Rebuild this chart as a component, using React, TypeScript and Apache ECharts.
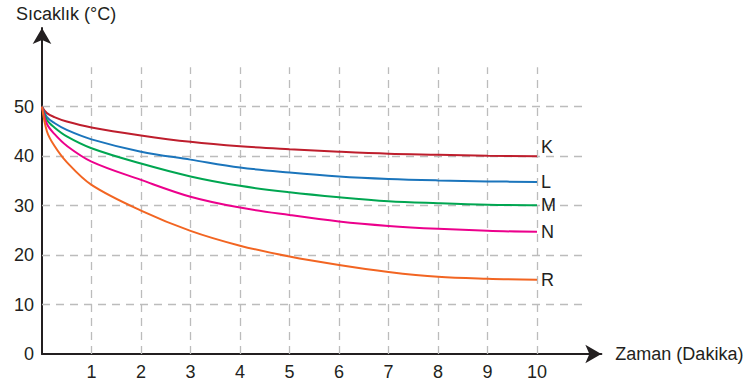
import React, { useEffect, useRef } from "react";
import * as echarts from "echarts";

// Time in minutes (x) and temperatures (°C) per substance
const times = [0, 0.1, 0.25, 0.5, 1, 2, 3, 4, 5, 6, 7, 8, 9, 10];
const seriesK = [50, 48.7, 47.9, 47.0, 45.8, 44.2, 42.9, 42.0, 41.4, 40.9, 40.5, 40.3, 40.1, 40.0];
const seriesL = [50, 47.9, 46.7, 45.3, 43.4, 40.9, 39.3, 37.7, 36.7, 35.9, 35.4, 35.1, 34.9, 34.8];
const seriesM = [50, 47.3, 45.8, 44.0, 41.6, 38.5, 35.9, 34.0, 32.7, 31.7, 30.9, 30.5, 30.2, 30.1];
const seriesN = [50, 46.5, 44.5, 42.1, 38.9, 35.2, 31.8, 29.6, 28.1, 26.8, 25.9, 25.3, 24.9, 24.7];
const seriesR = [50, 45.0, 42.1, 38.8, 34.2, 29.0, 24.9, 21.9, 19.7, 18.0, 16.6, 15.6, 15.2, 15.0];
const seriesNames = ["K", "L", "M", "N", "R"];

const xTicks = [1, 2, 3, 4, 5, 6, 7, 8, 9, 10];
const yTicks = [10, 20, 30, 40, 50];
const xAxisMax = 11.3;
const yAxisMax = 65.9;
const gridLineTop = 58;
const gridLineRight = 11;

const colors = ["#be1e2d", "#1b75bc", "#00a651", "#ec008c", "#f26522"];
const FONT = "'Liberation Sans', Arial, Helvetica, sans-serif";
const TEXT = "#231f20";

export default function App() {
  const ref = useRef<HTMLDivElement>(null);
  useEffect(() => {
    if (!ref.current) return;
    const chart = echarts.init(ref.current, undefined, { renderer: "svg" });
    const all = [seriesK, seriesL, seriesM, seriesN, seriesR];
    const gridStyle = { type: [8, 6] as any, color: "#bcbcbc", width: 1.3 };
    const markData: any[] = [];
    xTicks.forEach((t) => markData.push([{ coord: [t, 0] }, { coord: [t, gridLineTop] }]));
    yTicks.forEach((t) => markData.push([{ coord: [0, t] }, { coord: [gridLineRight, t] }]));

    const lineSeries = all.map((vals, i) => ({
      type: "line",
      name: seriesNames[i],
      data: times.map((t, j) => [t, vals[j]]),
      showSymbol: false,
      symbol: "none",
      smooth: 0.35,
      z: 3,
      lineStyle: { color: colors[i], width: 2 },
      endLabel: {
        show: true,
        formatter: seriesNames[i],
        color: TEXT,
        fontSize: 18,
        fontFamily: FONT,
        distance: 4,
        offset: i === 0 ? [0, -9] : [0, 0],
      },
    }));

    chart.setOption({
      animation: false,
      backgroundColor: "#ffffff",
      grid: {
        left: 42,
        top: 354 - 4.946 * yAxisMax,
        bottom: 34,
        width: 49.5 * xAxisMax,
        containLabel: false,
        outerBoundsMode: "none",
      },
      xAxis: {
        type: "value",
        min: 0,
        max: xAxisMax,
        interval: 1,
        name: "Zaman (Dakika)",
        nameLocation: "end",
        nameGap: 14,
        nameTextStyle: { color: TEXT, fontSize: 18, fontFamily: FONT, align: "left", verticalAlign: "middle" },
        axisLine: {
          show: true,
          onZero: false,
          symbol: ["none", "arrow"],
          symbolSize: [14, 16],
          lineStyle: { color: TEXT, width: 2 },
        },
        axisTick: { show: false },
        splitLine: { show: false },
        axisLabel: {
          color: TEXT,
          fontSize: 18,
          fontFamily: FONT,
          margin: 9,
          formatter: (v: number) => (xTicks.indexOf(v) >= 0 ? String(v) : ""),
        },
      },
      yAxis: {
        type: "value",
        min: 0,
        max: yAxisMax,
        interval: 10,
        axisLine: {
          show: true,
          onZero: false,
          symbol: ["none", "arrow"],
          symbolSize: [14, 16],
          lineStyle: { color: TEXT, width: 2 },
        },
        axisTick: { show: false },
        splitLine: { show: false },
        axisLabel: {
          color: TEXT,
          fontSize: 18,
          fontFamily: FONT,
          margin: 8,
          formatter: (v: number) => (v === 0 || yTicks.indexOf(v) >= 0 ? String(v) : ""),
        },
      },
      graphic: [
        {
          type: "text",
          left: 16,
          top: 5,
          style: { text: "Sıcaklık (°C)", fill: TEXT, fontSize: 18, fontFamily: FONT },
        },
      ],
      series: [
        {
          type: "line",
          name: "grid",
          data: [],
          z: 1,
          silent: true,
          markLine: {
            z: 1,
            silent: true,
            symbol: ["none", "none"],
            label: { show: false },
            lineStyle: gridStyle,
            emphasis: { disabled: true },
            data: markData,
          },
        },
        ...lineSeries,
      ],
    } as any);
    return () => chart.dispose();
  }, []);
  return <div ref={ref} style={{ width: 750, height: 388, position: "fixed", left: 0, top: 0 }} />;
}
